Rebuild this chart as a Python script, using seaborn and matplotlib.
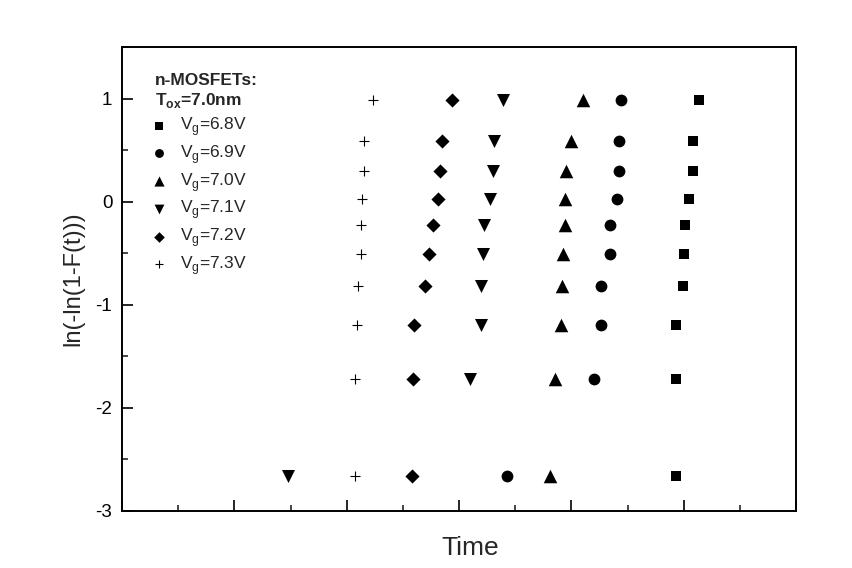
import pandas as pd
import matplotlib.pyplot as plt
import seaborn as sns
from matplotlib.ticker import MultipleLocator, NullFormatter

sns.set_theme(style="ticks")
plt.rcParams['font.family'] = ['Liberation Sans', 'DejaVu Sans']
plt.rcParams['mathtext.fontset'] = 'custom'
plt.rcParams['mathtext.rm'] = 'Liberation Sans'
plt.rcParams['axes.unicode_minus'] = False

# Weibull plot values (rank order, lowest to highest)
weibull_y = [-2.66, -1.72, -1.20, -0.82, -0.51, -0.23, 0.03, 0.30, 0.59, 0.99]

vg_labels = ['6.8V', '6.9V', '7.0V', '7.1V', '7.2V', '7.3V']
t_68 = [4.93, 4.93, 4.93, 4.99, 5.00, 5.01, 5.05, 5.08, 5.08, 5.14]
t_69 = [3.43, 4.20, 4.26, 4.26, 4.34, 4.34, 4.41, 4.42, 4.42, 4.44]
t_70 = [3.81, 3.85, 3.91, 3.92, 3.93, 3.94, 3.94, 3.95, 4.00, 4.10]
t_71 = [1.48, 3.10, 3.20, 3.20, 3.21, 3.22, 3.28, 3.30, 3.31, 3.39]
t_72 = [2.58, 2.59, 2.60, 2.70, 2.73, 2.77, 2.81, 2.83, 2.85, 2.94]
t_73 = [2.07, 2.07, 2.09, 2.10, 2.13, 2.13, 2.14, 2.15, 2.15, 2.23]

series = [t_68, t_69, t_70, t_71, t_72, t_73]
markers = ['s', 'o', '^', 'v', 'D', '+']
sizes = [55, 72, 95, 88, 52, 50]

fig = plt.figure(figsize=(8.52, 5.68), dpi=100)
ax = fig.add_axes([0.1432, 0.1004, 0.7911, 0.8169])

for lab, t, m, s in zip(vg_labels, series, markers, sizes):
    d = pd.DataFrame({'Time': t, 'W': weibull_y})
    if m == '+':
        sns.scatterplot(data=d, x='Time', y='W', marker=m, s=s, color='black',
                        linewidth=0.8, ax=ax, label='V$_{\\mathregular{g}}$=' + lab)
    else:
        sns.scatterplot(data=d, x='Time', y='W', marker=m, s=s, color='black',
                        edgecolor='black', linewidth=0, ax=ax,
                        label='V$_{\\mathregular{g}}$=' + lab)

ax.set_xlim(0, 6)
ax.set_ylim(-3, 1.5)
ax.xaxis.set_major_locator(MultipleLocator(1))
ax.xaxis.set_minor_locator(MultipleLocator(0.5))
ax.xaxis.set_major_formatter(NullFormatter())
ax.yaxis.set_major_locator(MultipleLocator(1))
ax.yaxis.set_minor_locator(MultipleLocator(0.5))
ax.tick_params(which='major', direction='in', length=8, width=1.2, labelsize=13.5, colors='black')
ax.tick_params(which='minor', direction='in', length=4, width=1.2)
ax.tick_params(axis='y', pad=7)
for sp in ax.spines.values():
    sp.set_linewidth(1.4)
    sp.set_color('black')

ax.set_xlabel('Time', fontsize=19)
ax.set_ylabel('ln(-ln(1-F(t)))', fontsize=17)
ax.xaxis.set_label_coords(0.516, -0.055)
ax.yaxis.set_label_coords(-0.056, 0.5)

leg = ax.legend(title='n-MOSFETs:\nT$_{\\mathregular{ox}}$=7.0nm', loc='upper left',
                bbox_to_anchor=(0.038, 0.959), frameon=False, fontsize=12.5,
                markerscale=0.75, handlelength=0.5, handletextpad=0.95,
                labelspacing=0.28, alignment='left', borderaxespad=0)
leg.get_title().set_fontweight('bold')
leg.get_title().set_fontsize(12.5)
leg._legend_box.sep = 4

plt.savefig('out.png', dpi=100)
plt.close()
